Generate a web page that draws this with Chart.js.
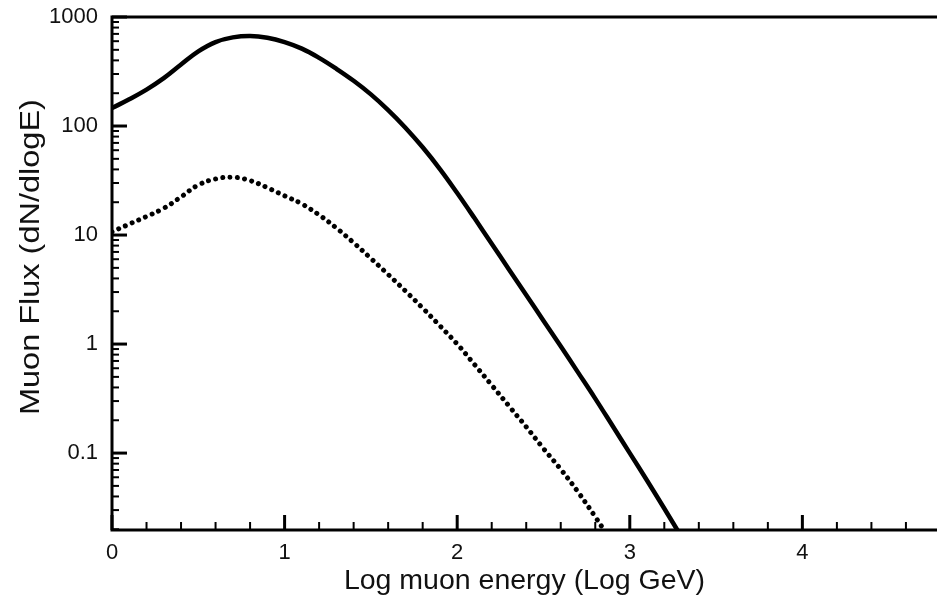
<!DOCTYPE html>
<html><head><meta charset="utf-8">
<script src="https://cdn.jsdelivr.net/npm/chart.js@4/dist/chart.umd.min.js"></script>
<style>html,body{margin:0;padding:0;background:#fff}#wrap{width:937px;height:607px}</style>
</head><body><div id="wrap"><canvas id="c" width="937" height="607"></canvas></div>
<script>
// Log muon energy (Log GeV)
const energy = [0,0.1,0.2,0.3,0.4,0.5,0.6,0.7,0.8,0.9,1.0,1.1,1.2,1.3,1.4,1.5,1.6,1.7,1.8,1.9,2.0,2.1,2.2,2.3,2.4,2.5,2.6,2.7,2.8,2.9,3.0,3.1,3.2,3.3];
// Muon flux, solid curve
const fluxSolid = [146,176,216,275,367,484,589,650,670,646,589,513,422,335,260,195,140,96.6,63.8,40.3,24.3,14.3,8.32,4.84,2.82,1.64,0.955,0.55,0.316,0.178,0.1,0.056,0.031,0.017];
// Muon flux, dotted curve
const fluxDotted = [10.7,12.6,14.8,17.6,22.4,28.8,32.7,33.9,31.6,27.2,22.9,19.3,15.3,11.6,8.51,6.10,4.35,3.07,2.14,1.47,1.0,0.65,0.42,0.27,0.174,0.11,0.071,0.044,0.026,0.015];
const xTickLabels = [0,1,2,3,4];
const yTickLabels = [0.1,1,10,100,1000];
const yTitle = 'Muon Flux (dN/dlogE)';
const xTitle = 'Log muon energy (Log GeV)';

const FONT = "'Liberation Sans', Arial, Helvetica, sans-serif";
const INK = '#111';

const framePlugin = {
  id: 'frame',
  afterDraw(chart) {
    const {ctx, chartArea: a, scales: {x, y}} = chart;
    ctx.save();
    ctx.strokeStyle = '#000';
    ctx.lineCap = 'butt';
    const yMin = y.min, yMax = y.max;
    for (let d = Math.floor(Math.log10(yMin)); d <= Math.ceil(Math.log10(yMax)); d++) {
      for (let m = 1; m <= 9; m++) {
        const v = m * Math.pow(10, d);
        if (v < yMin * 0.999 || v > yMax * 1.001) continue;
        const py = y.getPixelForValue(v);
        const major = m === 1;
        ctx.lineWidth = major ? 3 : 2;
        ctx.beginPath();
        ctx.moveTo(a.left, py);
        ctx.lineTo(a.left + (major ? 15 : 7), py);
        ctx.stroke();
      }
    }
    for (let i = 0; i <= Math.round(x.max / 0.2); i++) {
      const v = i * 0.2;
      if (v > x.max) continue;
      const px = x.getPixelForValue(v);
      const major = i % 5 === 0;
      ctx.lineWidth = major ? 3 : 2;
      ctx.beginPath();
      ctx.moveTo(px, a.bottom);
      ctx.lineTo(px, a.bottom - (major ? 15 : 8));
      ctx.stroke();
    }
    ctx.lineWidth = 3;
    ctx.lineCap = 'square';
    ctx.beginPath();
    ctx.moveTo(a.left, a.top);
    ctx.lineTo(a.right + 5, a.top);
    ctx.moveTo(a.left, a.top);
    ctx.lineTo(a.left, a.bottom);
    ctx.lineTo(a.right + 5, a.bottom);
    ctx.stroke();
    // y-axis title (slightly stretched along its length, like the reference)
    ctx.fillStyle = INK;
    ctx.font = '28px ' + FONT;
    ctx.textAlign = 'center';
    ctx.textBaseline = 'middle';
    ctx.translate(30, a.top + (a.bottom - a.top) * 0.468);
    ctx.rotate(-Math.PI / 2);
    ctx.scale(1.16, 1);
    ctx.fillText(yTitle, 0, 1);
    ctx.restore();
  }
};

new Chart(document.getElementById('c'), {
  type: 'line',
  data: {
    datasets: [
      {
        data: energy.map((e, i) => ({x: e, y: fluxSolid[i]})),
        borderColor: '#000', borderWidth: 4.5, pointRadius: 0,
        tension: 0.4, fill: false
      },
      {
        data: fluxDotted.map((f, i) => ({x: energy[i], y: f})),
        borderColor: '#000', borderWidth: 5, pointRadius: 0,
        borderDash: [0.01, 7.3], borderCapStyle: 'round',
        tension: 0.4, fill: false
      }
    ]
  },
  options: {
    responsive: false,
    animation: false,
    devicePixelRatio: 1,
    layout: {padding: {top: 17, right: 0, left: 0, bottom: 0}},
    plugins: {legend: {display: false}, tooltip: {enabled: false}},
    scales: {
      x: {
        type: 'linear', min: 0, max: 4.78,
        grid: {display: false, drawTicks: false},
        border: {display: false},
        afterBuildTicks: s => { s.ticks = xTickLabels.map(v => ({value: v})); },
        afterFit: s => { s.height = 77; s.paddingLeft = 0; s.paddingRight = 0; },
        ticks: {color: INK, padding: 10, font: {family: FONT, size: 22}, maxRotation: 0,
                callback: v => String(v)},
        title: {display: true, text: xTitle, color: INK,
                font: {family: FONT, size: 28.5}, padding: {top: 0, bottom: 9}}
      },
      y: {
        type: 'logarithmic', min: 0.0197, max: 1000,
        grid: {display: false, drawTicks: false},
        border: {display: false},
        afterBuildTicks: s => { s.ticks = yTickLabels.map(v => ({value: v})); },
        afterFit: s => { s.width = 112; s.paddingTop = 0; s.paddingBottom = 0; },
        ticks: {color: INK, padding: 14, font: {family: FONT, size: 22},
                callback: v => String(v)},
        title: {display: false}
      }
    }
  },
  plugins: [framePlugin]
});
</script>
</body></html>
